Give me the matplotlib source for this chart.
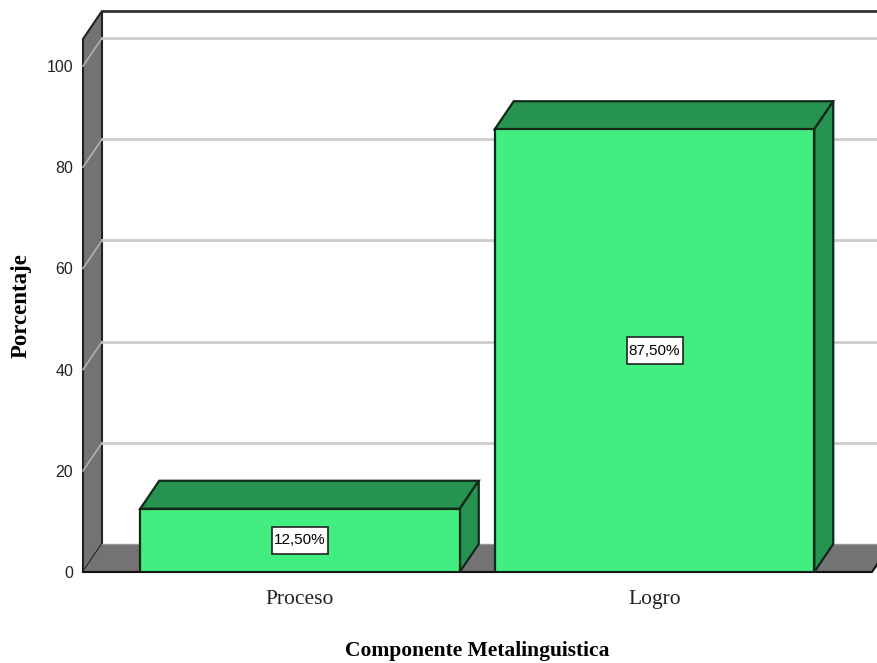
#Bar chart with fake 3D depth (Componente Metalinguistica)
import matplotlib
matplotlib.use('Agg')
import matplotlib.pyplot as plt
from matplotlib.patches import Rectangle

categories = ['Proceso', 'Logro']
values = [12.5, 87.5]
value_labels = ['12,50%', '87,50%']
y_ticks = [0, 20, 40, 60, 80, 100]

GREEN = '#43EE80'
DARK_GREEN = '#269350'
EDGE = '#10281A'
WALL = '#737373'
GRID = '#CCCCCC'

W, H = 878, 663
px_x = 354.5          # pixels per category step
px_y = 5.06           # pixels per percent
dx = 19 / px_x        # depth of the fake 3D
dy = 28 / px_y
width = 319.5 / px_x
x_min = (83 - 300) / px_x
x_max = (878 - 300) / px_x
x_end = (872 - 300) / px_x
y_max = (572 - 39) / px_y

sans = ['Liberation Sans']
serif = ['Liberation Serif']

fig = plt.figure(figsize=(W / 100, H / 100), dpi=100)
ax = fig.add_axes([83 / W, (H - 572) / H, (W - 83) / W, (572 - 39) / H])
ax.set_xlim(x_min, x_max)
ax.set_ylim(0, y_max)
ax.patch.set_visible(False)
for s in ax.spines.values():
    s.set_visible(False)

# left wall and floor
ax.fill([x_min, x_min + dx, x_min + dx, x_min], [0, dy, y_max + dy, y_max],
        facecolor=WALL, edgecolor='#222222', lw=1.5, clip_on=False, zorder=1)
ax.fill([x_min, x_min + dx, x_max + dx, x_end], [0, dy, dy, 0],
        facecolor=WALL, edgecolor='none', clip_on=False, zorder=1)
ax.plot([x_min, x_end, x_end + dx], [0, 0, dy], color='#111111', lw=1.5,
        clip_on=False, zorder=2)
ax.plot([x_min + dx, x_max], [dy, dy], color='#999999', lw=1, zorder=1)

# back wall lines
ax.plot([x_min + dx, x_max], [y_max + dy, y_max + dy], color='#333333', lw=2,
        clip_on=False, zorder=2)
for t in y_ticks[1:]:
    ax.plot([x_min + dx, x_max], [t + dy, t + dy], color=GRID, lw=2,
            clip_on=False, zorder=1)
    ax.plot([x_min, x_min + dx], [t, t + dy], color='#B0B0B0', lw=1.2,
            clip_on=False, zorder=2)

# bars
xs = list(range(len(categories)))
ax.bar(xs, values, width, color=GREEN, edgecolor=EDGE, lw=1.6, zorder=4)
for x, v in zip(xs, values):
    l, r = x - width / 2, x + width / 2
    ax.fill([l, l + dx, r + dx, r], [v, v + dy, v + dy, v],
            facecolor=DARK_GREEN, edgecolor=EDGE, lw=1.6, clip_on=False, zorder=3)
    ax.fill([r, r + dx, r + dx, r], [0, dy, v + dy, v],
            facecolor=DARK_GREEN, edgecolor=EDGE, lw=1.6, clip_on=False, zorder=3)

# value labels, box is taller than the text
box_w = 56 / px_x
box_h = 27 / px_y
for x, v, lab in zip(xs, values, value_labels):
    ax.add_patch(Rectangle((x - box_w / 2, v / 2 - box_h / 2), box_w, box_h,
                           fc='white', ec='#222222', lw=1.2, zorder=5))
    ax.text(x, v / 2, lab, ha='center', va='center', family=sans, fontsize=11,
            color='black', zorder=6)

ax.set_xticks(xs)
ax.set_xticklabels(categories, family=serif, fontsize=15.5, color='#222222')
ax.set_yticks(y_ticks)
ax.set_yticklabels([str(t) for t in y_ticks], family=sans, fontsize=11.5, color='#222222')
ax.tick_params(axis='x', length=0, pad=13)
ax.tick_params(axis='y', length=0, pad=7)

ax.set_xlabel('Componente Metalinguistica', family=serif, fontweight='bold',
              fontsize=15.5)
ax.xaxis.set_label_coords((477 - 83) / (W - 83), -(651 - 572) / (572 - 39), transform=ax.transAxes)
ax.set_ylabel('Porcentaje', family=serif, fontweight='bold', fontsize=16.5)
ax.yaxis.set_label_coords(-(83 - 21) / (W - 83), (572 - 306) / (572 - 39), transform=ax.transAxes)
ax.xaxis.label.set_va('center')
ax.yaxis.label.set_va('center')

plt.savefig('out.png', dpi=100)
